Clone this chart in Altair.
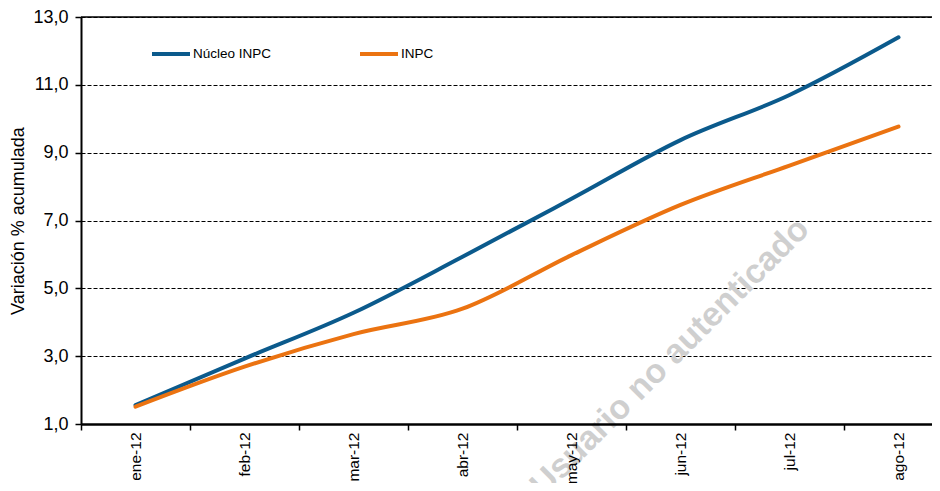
import json
import altair as alt
import pandas as pd

months = ["ene-12", "feb-12", "mar-12", "abr-12", "may-12", "jun-12", "jul-12", "ago-12"]
nucleo = [1.56, 2.93, 4.28, 5.93, 7.64, 9.37, 10.70, 12.40]
inpc = [1.51, 2.69, 3.65, 4.40, 5.98, 7.46, 8.62, 9.77]
series_names = ["Núcleo INPC", "INPC"]
series_colors = ["#0B5A8C", "#EB7311"]
y_ticks = [1, 3, 5, 7, 9, 11, 13]
y_title = "Variación % acumulada"
watermark = "Usuario no autenticado"

rows = []
for i, m in enumerate(months):
    rows.append({"idx": i, "mes": m, "serie": series_names[0], "valor": nucleo[i]})
    rows.append({"idx": i, "mes": m, "serie": series_names[1], "valor": inpc[i]})
df = pd.DataFrame(rows)

x_vals = sorted(list(range(len(months))) + [i - 0.5 for i in range(len(months))])
month_arr = json.dumps(months)
x_label_expr = f"datum.value % 1 === 0 ? {month_arr}[datum.value] : ''"
y_label_expr = "replace(format(datum.value, '.1f'), '.', ',')"

FONT = "Liberation Sans"
W, H = 851, 407

x_enc = alt.X(
    "idx:Q",
    scale=alt.Scale(domain=[-0.5, 7.307], nice=False, zero=False),
    axis=alt.Axis(
        values=x_vals, labelExpr=x_label_expr, labelAngle=270, labelFontSize=15.5,
        labelColor="black", labelFont=FONT, tickSize=6, tickColor="black", tickWidth=1.5,
        tickOpacity={"condition": {"test": "datum.value % 1 === 0", "value": 0}, "value": 1},
        domainColor="black", domainWidth=2.5, labelPadding=2, grid=False, title=None,
        labelOverlap=False, labelFlush=False, labelBound=False, zindex=2,
    ),
)
y_enc = alt.Y(
    "valor:Q",
    scale=alt.Scale(domain=[y_ticks[0], y_ticks[-1]], nice=False, zero=False),
    axis=alt.Axis(
        values=y_ticks, labelExpr=y_label_expr, title=y_title, titleFontSize=18,
        titleFontWeight="normal", titleColor="black", titleFont=FONT,
        labelFontSize=18, labelColor="black", labelFont=FONT, tickSize=6,
        tickColor="black", tickWidth=1.5, domainColor="black", domainWidth=2,
        labelPadding=7, titlePadding=5, grid=True, gridColor="black",
        gridDash=[4, 2], gridWidth=1, labelFlush=False,
    ),
)

lines = alt.Chart(df).mark_line(interpolate="monotone", strokeWidth=4, strokeCap="round").encode(
    x=x_enc,
    y=y_enc,
    color=alt.Color(
        "serie:N",
        scale=alt.Scale(domain=series_names, range=series_colors),
        legend=alt.Legend(
            title=None, orient="none", legendX=69, legendY=16, direction="horizontal",
            columns=2, symbolType="stroke", symbolSize=1444, symbolStrokeWidth=4,
            labelFontSize=13.5, labelColor="black", labelFont=FONT, labelOffset=1,
            columnPadding=80, padding=0,
        ),
    ),
)

top_rule = alt.Chart(pd.DataFrame({"k": [0]})).mark_rule(color="black", strokeWidth=1.5).encode(
    x=alt.value(0), x2=alt.value(W), y=alt.value(0)
)

wm = alt.Chart(pd.DataFrame({"t": [watermark]})).mark_text(
    angle=315, fontSize=34, fontWeight="bold", color="#cfcfcf", align="right",
    baseline="alphabetic", font=FONT,
).encode(text="t:N", x=alt.value(730), y=alt.value(214))

chart = alt.layer(wm, top_rule, lines).properties(
    width=W, height=H,
    padding={"left": 73, "top": 9, "right": 0, "bottom": 59},
    autosize=alt.AutoSizeParams(type="none"),
).configure_view(stroke=None).configure(background="white", font=FONT)

chart.save("out.html", embed_options={"renderer": "svg", "actions": False})
